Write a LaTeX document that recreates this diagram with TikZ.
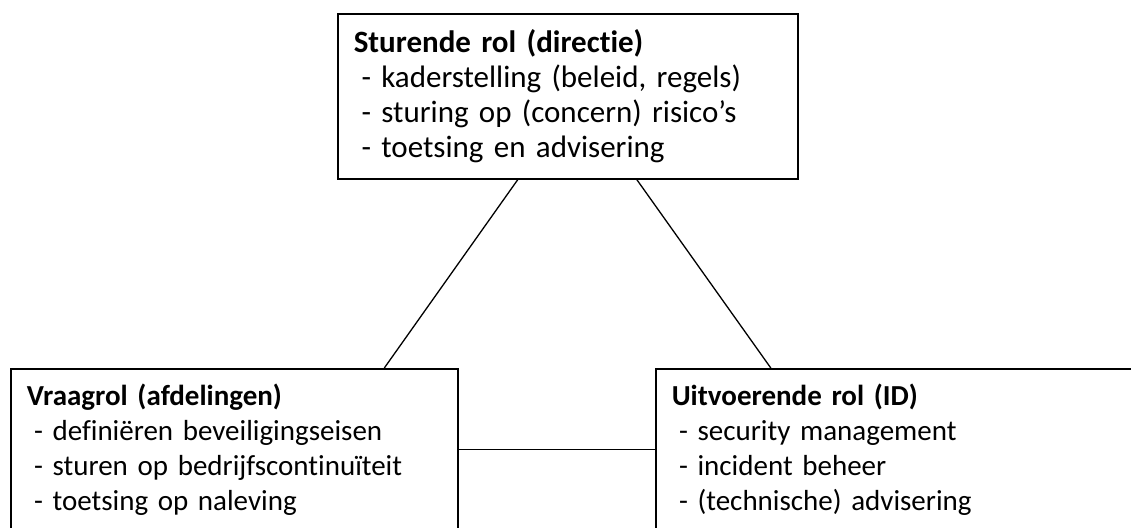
\documentclass[tikz,border=0pt]{standalone}
\usepackage{fontspec}
\setmainfont{Carlito}[Ligatures=NoCommon]
\usetikzlibrary{positioning}
\newcommand{\punt}[1]{\hspace*{.25em}- #1}
\tikzset{
  rol/.style={draw, line width=1.6pt, anchor=north west, minimum height=165pt,
    inner xsep=16pt, align=left, font=\fontsize{29}{35}\selectfont},
  verbind/.style={line width=1.3pt}
}

\begin{document}
\begin{tikzpicture}[x=1pt,y=-1pt]
		\useasboundingbox (0,0) rectangle (1131,527) ;
		\clip (0,0) rectangle (1131,527) ;
		% Top
		\node[rol, text width=428pt, font=\fontsize{31}{35}\selectfont] (Sturend) at (337,13) {\textbf{Sturende rol (directie)}\\\punt{kaderstelling (beleid, regels)}\\\punt{sturing op (concern) risico’s}\\\punt{toetsing en advisering}} ;
		% Bottom
		\node[rol, text width=415pt, minimum height=162pt] (Vraag) at (10,368) {\textbf{Vraagrol (afdelingen)}\\\punt{definiëren beveiligingseisen}\\\punt{sturen op bedrijfscontinuïteit}\\\punt{toetsing op naleving}} ;
		\node[rol, text width=460pt, minimum height=162pt] (Uitvoer) at (655,368) {\textbf{Uitvoerende rol (ID)}\\\punt{security management}\\\punt{incident beheer}\\\punt{(technische) advisering}} ;
		% Connectors
		\draw[verbind] ([xshift=-50pt]Sturend.south) -- ([xshift=150pt]Vraag.north) ;
		\draw[verbind] ([xshift=69pt]Sturend.south) -- ([xshift=-131pt]Uitvoer.north) ;
		\draw[verbind] (Vraag.east) -- (Uitvoer.west) ;
	\end{tikzpicture}
\end{document}
